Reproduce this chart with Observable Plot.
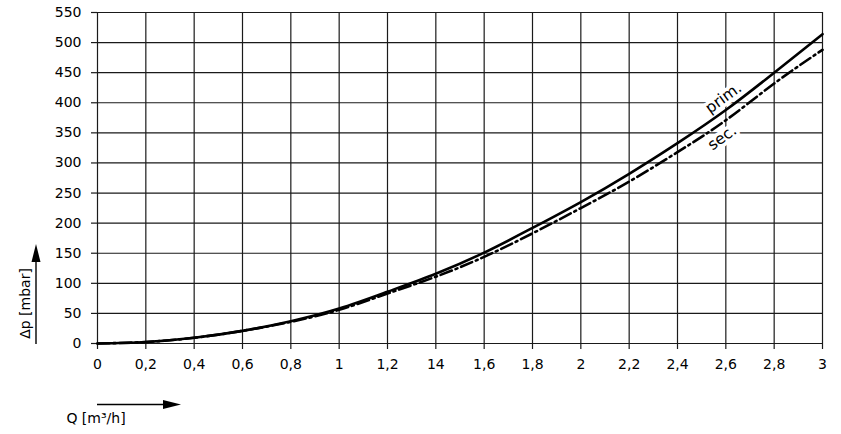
<!DOCTYPE html>
<html><head><meta charset="utf-8">
<script src="https://cdn.jsdelivr.net/npm/d3@7"></script>
<script src="https://cdn.jsdelivr.net/npm/@observablehq/plot@0.6"></script>
<style>html,body{margin:0;padding:0;background:#fff}svg{display:block}</style>
</head><body><div id="chart"></div>
<script>
const flowQ  = [0, 0.2, 0.4, 0.6, 0.8, 1.0, 1.2, 1.4, 1.6, 1.8, 2.0, 2.2, 2.4, 2.6, 2.8, 3.0];
const dpPrim = [0, 2.5, 9.5, 21, 37, 58, 86, 116, 151, 192, 235, 282, 333, 388, 450, 514];
const dpSec  = [0, 2.5, 9.5, 21, 36, 56, 83, 111, 144, 183, 225, 269, 318, 371, 432, 488];
const xTickValues = [0, 0.2, 0.4, 0.6, 0.8, 1, 1.2, 1.4, 1.6, 1.8, 2, 2.2, 2.4, 2.6, 2.8, 3];
const xTickLabels = ["0","0,2","0,4","0,6","0,8","1","1,2","14","1,6","1,8","2","2,2","2,4","2,6","2,8","3"];
const yTickValues = [0, 50, 100, 150, 200, 250, 300, 350, 400, 450, 500, 550];
const curveLabels = ["prim.", "sec."];
const labelQ  = [2.59, 2.585];
const labelDp = [408, 342];
const yTitle = "Δp [mbar]";
const xTitle = "Q [m³/h]";

const prim = flowQ.map((q, i) => ({q, dp: dpPrim[i]}));
const sec  = flowQ.map((q, i) => ({q, dp: dpSec[i]}));
const labels = curveLabels.map((t, i) => ({t, q: labelQ[i], dp: labelDp[i]}));

const plot = Plot.plot({
  width: 841, height: 434,
  marginLeft: 97, marginRight: 19, marginTop: 12, marginBottom: 91,
  style: {fontFamily: "'DejaVu Sans', sans-serif", fontSize: "14px", color: "#000", background: "#fff"},
  x: {domain: [0, 3]},
  y: {domain: [0, 550]},
  marks: [
    Plot.gridX(xTickValues, {stroke: "#1a1a1a", strokeOpacity: 1, strokeWidth: 1.2}),
    Plot.gridY(yTickValues, {stroke: "#1a1a1a", strokeOpacity: 1, strokeWidth: 1.2}),
    Plot.axisX({ticks: xTickValues, tickSize: 6, tickPadding: 10, label: null,
      tickFormat: d => xTickLabels[xTickValues.findIndex(v => Math.abs(v - d) < 1e-9)],
      stroke: "#1a1a1a", strokeWidth: 1.2, fill: "#000"}),
    Plot.axisY({ticks: yTickValues, tickSize: 6, tickPadding: 10, label: null,
      stroke: "#1a1a1a", strokeWidth: 1.2, fill: "#000"}),
    Plot.text(labels, {x: "q", y: "dp", text: "t", rotate: -36, fontSize: 15.5,
      fill: "#000", stroke: "#fff", strokeWidth: 7, textAnchor: "middle"}),
    Plot.line(sec, {x: "q", y: "dp", curve: "natural", stroke: "#000", strokeWidth: 2.6,
      strokeDasharray: "12,4,2,4"}),
    Plot.line(prim, {x: "q", y: "dp", curve: "natural", stroke: "#000", strokeWidth: 2.6})
  ]
});
document.getElementById("chart").appendChild(plot);

// axis titles with arrows (decoration)
const svg = d3.select(plot);
const g = svg.append("g").attr("fill", "#000").attr("stroke", "none");
g.append("line").attr("x1", 36).attr("x2", 36).attr("y1", 344).attr("y2", 260)
  .attr("stroke", "#000").attr("stroke-width", 1.4);
g.append("path").attr("d", "M36,244 L31.5,262 L40.5,262 Z");
g.append("text").attr("transform", "translate(30,303.5) rotate(-90)")
  .attr("text-anchor", "middle").attr("font-size", 14).text(yTitle);
g.append("line").attr("x1", 97).attr("x2", 166).attr("y1", 404.5).attr("y2", 404.5)
  .attr("stroke", "#000").attr("stroke-width", 1.4);
g.append("path").attr("d", "M181,404.5 L163,400 L163,409 Z");
g.append("text").attr("x", 96).attr("y", 422.5).attr("font-size", 14).text(xTitle);
</script></body></html>
